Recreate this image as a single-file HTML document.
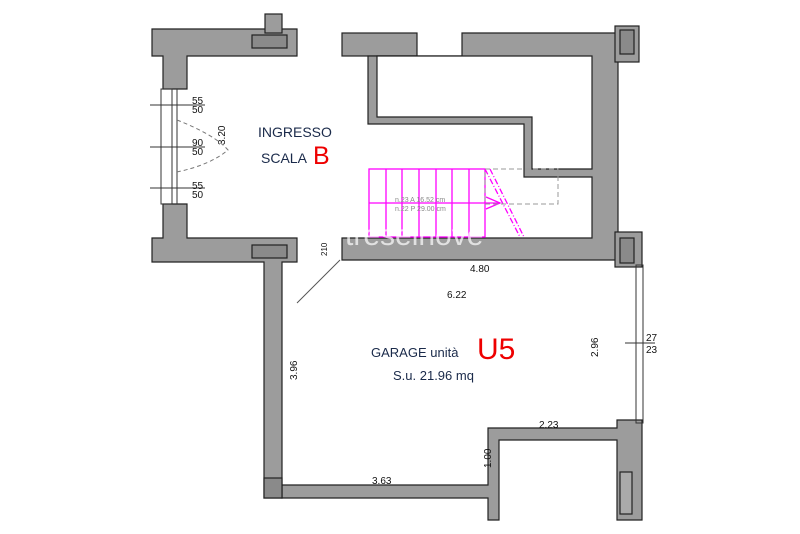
<!DOCTYPE html>
<html><head><meta charset="utf-8"><style>
html,body{margin:0;padding:0;background:#fff}
svg{display:block}
text{font-family:"Liberation Sans","DejaVu Sans",sans-serif}
</style></head><body>
<svg width="800" height="534" viewBox="0 0 800 534" xmlns="http://www.w3.org/2000/svg">
<g fill="#9c9c9c" stroke="#222" stroke-width="1.2">
<polygon points="152,29 297,29 297,56 187,56 187,89 163,89 163,56 152,56"/>
<rect x="265" y="14" width="17" height="19"/>
<rect x="252" y="35" width="35" height="13" fill="#8a8a8a"/>
<polygon points="163,204 187,204 187,238 297,238 297,262 282,262 282,498 264,498 264,262 152,262 152,238 163,238"/>
<rect x="252" y="245" width="35" height="13" fill="#8a8a8a"/>
<rect x="342" y="33" width="75" height="23"/>
<polygon points="462,33 618,33 618,260 342,260 342,238 592,238 592,177 524,177 524,124 368,124 368,56 462,56"/>
<polygon points="377,56 592,56 592,169 532,169 532,117 377,117" fill="#fff"/>
<rect x="615" y="26" width="24" height="36"/>
<rect x="620" y="30" width="14" height="24" fill="#8a8a8a"/>
<rect x="615" y="232" width="27" height="35"/>
<rect x="620" y="238" width="14" height="25" fill="#8a8a8a"/>
<polygon points="282,485 488,485 488,428 617,428 617,420 642,420 642,520 617,520 617,440 499,440 499,520 488,520 488,498 282,498"/>
<rect x="264" y="478" width="18" height="20" fill="#8a8a8a"/>
<rect x="620" y="472" width="12" height="42" fill="#aaa"/>
</g>
<g stroke="#333" stroke-width="1" fill="none">
<rect x="161" y="89" width="11" height="115"/>
<line x1="177" y1="89" x2="177" y2="204"/>
<line x1="150" y1="105" x2="205" y2="105"/><line x1="150" y1="147" x2="205" y2="147"/><line x1="150" y1="188" x2="205" y2="188"/>
<rect x="636" y="265" width="7" height="158"/>
<line x1="625" y1="343" x2="655" y2="343"/>
<line x1="340" y1="260" x2="297" y2="303" stroke="#555"/>
</g>
<path d="M177,120 Q215,135 228,150 Q210,165 177,172" fill="none" stroke="#777" stroke-dasharray="4,3"/>
<g stroke="#f0f" stroke-width="1.3" fill="none">
<rect x="369" y="169" width="116" height="68"/>
<line x1="386" y1="169" x2="386" y2="237"/><line x1="402" y1="169" x2="402" y2="237"/><line x1="419" y1="169" x2="419" y2="237"/><line x1="436" y1="169" x2="436" y2="237"/><line x1="452" y1="169" x2="452" y2="237"/><line x1="469" y1="169" x2="469" y2="237"/>
<line x1="369" y1="203" x2="500" y2="203"/>
<polyline points="486,197 500,203 486,209"/>
<line x1="485" y1="169" x2="520" y2="237" stroke-dasharray="6,2,1,2"/>
<line x1="490" y1="169" x2="524" y2="237" stroke-dasharray="6,2,1,2"/>
</g>
<rect x="485" y="169" width="73" height="35" fill="none" stroke="#999" stroke-dasharray="5,3"/>
<text x="395" y="202" font-size="7" fill="#888">n.23 A 16.52 cm</text>
<text x="395" y="211" font-size="7" fill="#888">n.22 P 29.00 cm</text>
<g fill="#1a2a4a">
<text x="258" y="137" font-size="14">INGRESSO</text>
<text x="261" y="163" font-size="14">SCALA</text>
<text x="371" y="357" font-size="13">GARAGE unità</text>
<text x="393" y="380" font-size="13">S.u. 21.96 mq</text>
</g>
<text x="313" y="164" font-size="25" fill="#e00">B</text>
<text x="477" y="359" font-size="30" fill="#e00">U5</text>
<g font-size="10" fill="#111">
<text x="470" y="272">4.80</text>
<text x="447" y="298">6.22</text>
<text x="539" y="428">2.23</text>
<text x="372" y="484">3.63</text>
<text x="646" y="341">27</text><text x="646" y="353">23</text>
<text x="192" y="104">55</text><text x="192" y="113">50</text>
<text x="192" y="146">90</text><text x="192" y="155">50</text>
<text x="192" y="189">55</text><text x="192" y="198">50</text>
<text transform="translate(598,357) rotate(-90)">2.96</text>
<text transform="translate(297,380) rotate(-90)">3.96</text>
<text transform="translate(491,468) rotate(-90)">1.00</text>
<text transform="translate(225,145) rotate(-90)">3.20</text>
<text transform="translate(327,256) rotate(-90)" font-size="8">210</text>
</g>
<text x="345" y="245" font-size="30" fill="#fff" fill-opacity="0.7">treseinove</text>
</svg>
</body></html>
